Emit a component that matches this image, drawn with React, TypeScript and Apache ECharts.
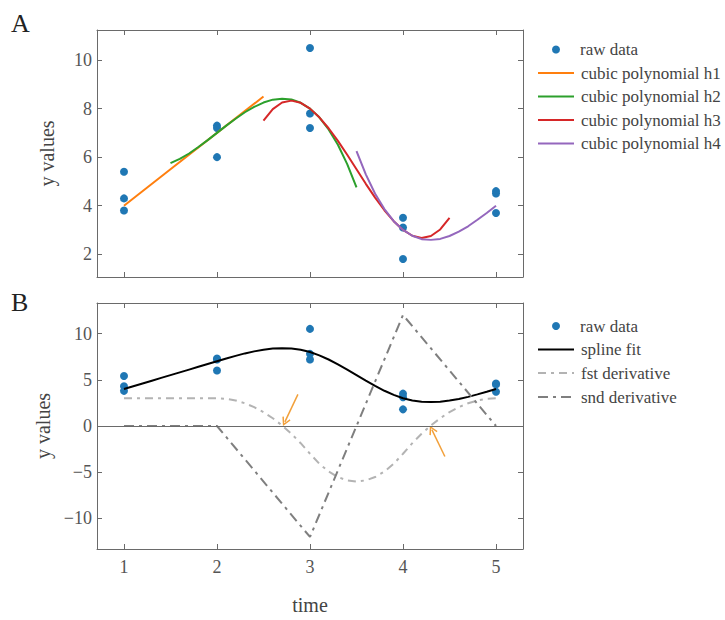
import React, { useEffect, useRef } from "react";
import * as echarts from "echarts";

// ---- data ----
const rawX = [1, 1, 1, 2, 2, 2, 3, 3, 3, 4, 4, 4, 5, 5, 5];
const rawY = [5.4, 4.3, 3.8, 7.3, 7.2, 6.0, 10.5, 7.8, 7.2, 3.5, 3.1, 1.8, 4.6, 4.5, 3.7];

const h1X = [1, 1.5, 2, 2.5];
const h1Y = [4.0, 5.5, 7.0, 8.5];

const h2X = [1.5, 1.6, 1.7, 1.8, 1.9, 2.0, 2.1, 2.2, 2.3, 2.4, 2.5, 2.6, 2.7, 2.8, 2.9, 3.0, 3.1, 3.2, 3.3, 3.4, 3.5];
const h2Y = [5.75, 5.93, 6.15, 6.42, 6.7, 7.0, 7.3, 7.58, 7.85, 8.07, 8.25, 8.37, 8.41, 8.38, 8.24, 8.0, 7.64, 7.14, 6.51, 5.71, 4.75];

const h3X = [2.5, 2.6, 2.7, 2.8, 2.9, 3.0, 3.1, 3.2, 3.3, 3.4, 3.5, 3.6, 3.7, 3.8, 3.9, 4.0, 4.1, 4.2, 4.3, 4.4, 4.5];
const h3Y = [7.5, 7.98, 8.25, 8.33, 8.24, 8.0, 7.64, 7.19, 6.67, 6.1, 5.5, 4.9, 4.33, 3.81, 3.36, 3.0, 2.76, 2.67, 2.75, 3.02, 3.5];

const h4X = [3.5, 3.6, 3.7, 3.8, 3.9, 4.0, 4.1, 4.2, 4.3, 4.4, 4.5, 4.6, 4.7, 4.8, 4.9, 5.0];
const h4Y = [6.25, 5.29, 4.49, 3.86, 3.36, 3.0, 2.76, 2.62, 2.59, 2.63, 2.75, 2.93, 3.15, 3.42, 3.7, 4.0];

const splineX = [
  1.0, 1.1, 1.2, 1.3, 1.4, 1.5, 1.6, 1.7, 1.8, 1.9, 2.0, 2.1, 2.2, 2.3, 2.4, 2.5, 2.6, 2.7, 2.8, 2.9, 3.0,
  3.1, 3.2, 3.3, 3.4, 3.5, 3.6, 3.7, 3.8, 3.9, 4.0, 4.1, 4.2, 4.3, 4.4, 4.5, 4.6, 4.7, 4.8, 4.9, 5.0,
];
const splineY = [
  4.0, 4.3, 4.6, 4.9, 5.2, 5.5, 5.8, 6.1, 6.4, 6.7, 7.0, 7.3, 7.58, 7.85, 8.07, 8.25, 8.37, 8.41, 8.38, 8.24, 8.0,
  7.64, 7.19, 6.67, 6.1, 5.5, 4.9, 4.33, 3.81, 3.36, 3.0, 2.76, 2.62, 2.59, 2.63, 2.75, 2.93, 3.15, 3.42, 3.7, 4.0,
];
const fstY = [
  3, 3, 3, 3, 3, 3, 3, 3, 3, 3, 3, 2.94, 2.76, 2.46, 2.04, 1.5, 0.84, 0.06, -0.84, -1.86, -3,
  -4.08, -4.92, -5.52, -5.88, -6, -5.88, -5.52, -4.92, -4.08, -3, -1.86, -0.84, 0.06, 0.84, 1.5, 2.04, 2.46, 2.76, 2.94, 3,
];
const sndX = [1, 2, 3, 4, 5];
const sndY = [0, 0, -12, 12, 0];

const arrowA = [[2.87, 3.42], [2.73, 0.45]];
const arrowB = [[4.45, -3.3], [4.31, -0.4]];

const xTicks = [1, 2, 3, 4, 5];
const yTicksA = [2, 4, 6, 8, 10];
const yTicksB = [-10, -5, 0, 5, 10];

const zip = (xs: number[], ys: number[]) => xs.map((x, i) => [x, ys[i]]);

const FONT = "Liberation Serif";
const AXIS = "#6a6a6a";
const BLUE = "#1f77b4";
const CHEVRON = "path://M5,0 L10,9 L8.6,10 L5,3.2 L1.4,10 L0,9 Z";

export default function App() {
  const ref = useRef<HTMLDivElement>(null);
  useEffect(() => {
    document.body.style.margin = "0";
    const chart = echarts.init(ref.current!, null, { renderer: "svg" });

    const fmt = (v: number) => String(v).replace("-", "\u2212");

    const xAx = (gridIndex: number, position: string, labels: boolean, name?: string) => ({
      type: "value",
      gridIndex,
      position,
      min: 0.71,
      max: 5.29,
      name,
      nameLocation: "middle",
      nameGap: 46,
      nameTextStyle: { fontFamily: FONT, fontSize: 20, color: "#444" },
      axisLine: { show: true, onZero: false, lineStyle: { color: AXIS, width: 1 } },
      axisTick: { show: true, inside: true, length: 5, customValues: xTicks, lineStyle: { color: AXIS } },
      axisLabel: { show: labels, customValues: xTicks, fontFamily: FONT, fontSize: 18, color: "#555", margin: 9, formatter: fmt },
      splitLine: { show: false },
    });
    const yAx = (gridIndex: number, position: string, labels: boolean, min: number, max: number, ticks: number[]) => ({
      type: "value",
      gridIndex,
      position,
      min,
      max,
      name: labels ? "y values" : undefined,
      nameLocation: "middle",
      nameGap: 40,
      nameTextStyle: { fontFamily: FONT, fontSize: 20, color: "#444" },
      axisLine: { show: true, onZero: false, lineStyle: { color: AXIS, width: 1 } },
      axisTick: { show: true, inside: true, length: 5, customValues: ticks, lineStyle: { color: AXIS } },
      axisLabel: { show: labels, customValues: ticks, fontFamily: FONT, fontSize: 18, color: "#555", margin: 5, formatter: fmt },
      splitLine: { show: false },
    });

    const legendItem = (name: string, center: number, scatter: boolean) => ({
      data: [name],
      orient: "vertical",
      left: scatter ? 552 : 537,
      top: center - 9,
      itemWidth: scatter ? 8 : 36,
      itemHeight: scatter ? 8 : 14,
      selectedMode: false,
      padding: 0,
      itemStyle: scatter ? { color: BLUE, opacity: 1 } : { opacity: 0 },
      textStyle: {
        fontFamily: FONT,
        fontSize: 17,
        color: "#444",
        lineHeight: 18,
        padding: [0, 0, 0, scatter ? 15 : 2],
      },
    });

    const lineS = (name: string, xs: number[], ys: number[], color: string, xi: number, extra: any = {}) => ({
      name,
      type: "line",
      xAxisIndex: xi,
      yAxisIndex: xi,
      data: zip(xs, ys),
      symbol: "none",
      showSymbol: false,
      lineStyle: { color, width: 2, ...(extra.lineStyle || {}) },
      itemStyle: { color },
      ...extra.rest,
    });

    const arrowS = (coords: number[][]) => ({
      type: "lines",
      coordinateSystem: "cartesian2d",
      xAxisIndex: 2,
      yAxisIndex: 2,
      symbol: ["none", CHEVRON],
      symbolSize: 9,
      silent: true,
      lineStyle: { color: "#f2a03a", width: 1.5, opacity: 1, curveness: 0 },
      itemStyle: { color: "#f2a03a" },
      data: [{ coords }],
    });

    chart.setOption({
      animation: false,
      backgroundColor: "#fff",
      textStyle: { fontFamily: FONT },
      grid: [
        { left: 97, top: 30, width: 426, height: 247 },
        { left: 97, top: 303, width: 426, height: 246 },
      ],
      xAxis: [
        xAx(0, "bottom", false),
        xAx(0, "top", false),
        xAx(1, "bottom", true, "time"),
        xAx(1, "top", false),
      ],
      yAxis: [
        yAx(0, "left", true, 1.06, 11.24, yTicksA),
        yAx(0, "right", false, 1.06, 11.24, yTicksA),
        yAx(1, "left", true, -13.3, 13.3, yTicksB),
        yAx(1, "right", false, -13.3, 13.3, yTicksB),
      ],
      legend: [
        legendItem("raw data", 49.5, true),
        legendItem("cubic polynomial h1", 73, false),
        legendItem("cubic polynomial h2", 96.5, false),
        legendItem("cubic polynomial h3", 120, false),
        legendItem("cubic polynomial h4", 143.5, false),
        legendItem("raw data", 326, true),
        legendItem("spline fit", 349.5, false),
        legendItem("fst derivative", 373, false),
        legendItem("snd derivative", 397, false),
      ],
      graphic: [
        { type: "text", left: 11, top: 10, style: { text: "A", font: `26px ${FONT}`, fill: "#222" } },
        { type: "text", left: 11, top: 289, style: { text: "B", font: `26px ${FONT}`, fill: "#222" } },
      ],
      series: [
        {
          name: "raw data",
          type: "scatter",
          xAxisIndex: 0,
          yAxisIndex: 0,
          data: zip(rawX, rawY),
          symbolSize: 8,
          itemStyle: { color: BLUE, opacity: 1 },
        },
        lineS("cubic polynomial h1", h1X, h1Y, "#ff7f0e", 0),
        lineS("cubic polynomial h2", h2X, h2Y, "#2ca02c", 0),
        lineS("cubic polynomial h3", h3X, h3Y, "#d62728", 0),
        lineS("cubic polynomial h4", h4X, h4Y, "#9467bd", 0),
        {
          name: "raw data",
          type: "scatter",
          xAxisIndex: 2,
          yAxisIndex: 2,
          data: zip(rawX, rawY),
          symbolSize: 8,
          itemStyle: { color: BLUE, opacity: 1 },
        },
        lineS("spline fit", splineX, splineY, "#000000", 2, {
          rest: {
            markLine: {
              silent: true,
              symbol: "none",
              label: { show: false },
              lineStyle: { color: AXIS, type: "solid", width: 1 },
              data: [{ yAxis: 0 }],
            },
          },
        }),
        lineS("fst derivative", splineX, fstY, "#b3b3b3", 2, { lineStyle: { type: [8, 5, 3, 5] } }),
        lineS("snd derivative", sndX, sndY, "#7f7f7f", 2, { lineStyle: { type: [10, 5, 3, 5] } }),
        arrowS(arrowA),
        arrowS(arrowB),
      ],
    });
    return () => chart.dispose();
  }, []);
  return <div ref={ref} style={{ width: 725, height: 620 }} />;
}
